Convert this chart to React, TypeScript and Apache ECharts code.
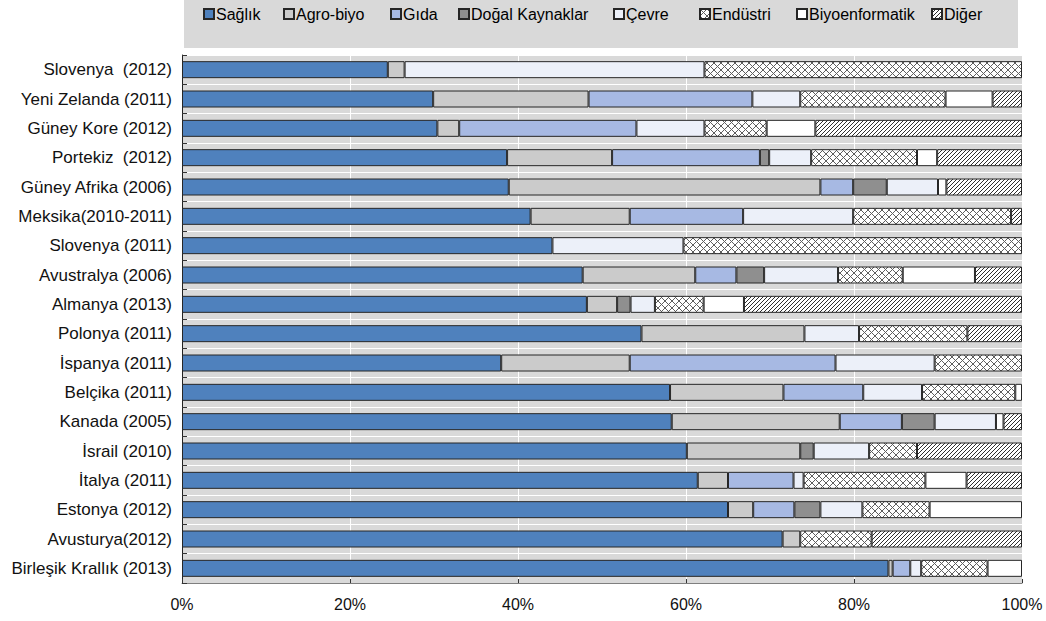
import React, { useEffect, useRef } from "react";
import * as echarts from "echarts";

const countries = [
  "Slovenya  (2012)",
  "Yeni Zelanda (2011)",
  "Güney Kore (2012)",
  "Portekiz  (2012)",
  "Güney Afrika (2006)",
  "Meksika(2010-2011)",
  "Slovenya (2011)",
  "Avustralya (2006)",
  "Almanya (2013)",
  "Polonya (2011)",
  "İspanya (2011)",
  "Belçika (2011)",
  "Kanada (2005)",
  "İsrail (2010)",
  "İtalya (2011)",
  "Estonya (2012)",
  "Avusturya(2012)",
  "Birleşik Krallık (2013)",
];

const seriesNames = [
  "Sağlık",
  "Agro-biyo",
  "Gıda",
  "Doğal Kaynaklar",
  "Çevre",
  "Endüstri",
  "Biyoenformatik",
  "Diğer",
];

const saglik = [24.5, 29.9, 30.4, 38.7, 38.9, 41.5, 44.1, 47.7, 48.2, 54.7, 38.0, 58.1, 58.3, 60.1, 61.4, 65.0, 71.5, 84.1];
const agroBiyo = [2.0, 18.5, 2.6, 12.5, 37.1, 11.8, 0, 13.4, 3.6, 19.4, 15.3, 13.5, 20.0, 13.5, 3.6, 3.0, 2.1, 0.5];
const gida = [0, 19.5, 21.1, 17.6, 3.9, 13.5, 0, 4.9, 0, 0, 24.5, 9.5, 7.4, 0, 7.8, 4.9, 0, 2.1];
const dogalKaynaklar = [0, 0, 0, 1.1, 4.0, 0, 0, 3.3, 1.6, 0, 0, 0, 3.9, 1.6, 0, 3.1, 0, 0];
const cevre = [35.7, 5.7, 8.1, 5.0, 6.1, 13.1, 15.6, 8.8, 2.9, 6.5, 11.8, 7.0, 7.3, 6.6, 1.2, 5.0, 0, 1.3];
const endustri = [37.8, 17.3, 7.4, 12.6, 0, 18.8, 40.3, 7.7, 5.8, 12.9, 10.4, 11.1, 0, 5.7, 14.5, 8.0, 8.5, 7.9];
const biyoenformatik = [0, 5.6, 5.8, 2.4, 1.0, 0, 0, 8.6, 4.8, 0, 0, 0.8, 0.9, 0, 4.9, 11.0, 0, 4.1];
const diger = [0, 3.5, 24.6, 10.1, 9.0, 1.3, 0, 5.6, 33.1, 6.5, 0, 0, 2.2, 12.5, 6.6, 0, 17.9, 0];

const xTicks = [0, 20, 40, 60, 80, 100];

const allValues = [saglik, agroBiyo, gida, dogalKaynaklar, cevre, endustri, biyoenformatik, diger];

const legendLeft = [203, 283, 390, 458, 613, 699, 796, 931];

function makeCrossHatch() {
  const s = 7;
  const c = document.createElement("canvas");
  c.width = s;
  c.height = s;
  const ctx = c.getContext("2d")!;
  ctx.fillStyle = "#ffffff";
  ctx.fillRect(0, 0, s, s);
  ctx.strokeStyle = "#5e5e5e";
  ctx.lineWidth = 1;
  ctx.beginPath();
  ctx.moveTo(0, 0);
  ctx.lineTo(s, s);
  ctx.moveTo(s, 0);
  ctx.lineTo(0, s);
  ctx.stroke();
  return c;
}

function makeDiagHatch() {
  const s = 4;
  const c = document.createElement("canvas");
  c.width = s;
  c.height = s;
  const ctx = c.getContext("2d")!;
  ctx.fillStyle = "#ffffff";
  ctx.fillRect(0, 0, s, s);
  ctx.strokeStyle = "#2e2e2e";
  ctx.lineWidth = 1;
  ctx.beginPath();
  ctx.moveTo(-1, s + 1);
  ctx.lineTo(s + 1, -1);
  ctx.moveTo(-1, 1);
  ctx.lineTo(1, -1);
  ctx.moveTo(s - 1, s + 1);
  ctx.lineTo(s + 1, s - 1);
  ctx.stroke();
  return c;
}

export default function App() {
  const ref = useRef<HTMLDivElement>(null);

  useEffect(() => {
    if (!ref.current) return;
    const chart = echarts.init(ref.current, null, { renderer: "svg" });

    const cross = makeCrossHatch();
    const hatch = makeDiagHatch();

    const colors: any[] = [
      "#4f81bd",
      "#cbcbcb",
      "#a7b9e3",
      "#8f8f8f",
      "#ecf0f9",
      { image: cross, repeat: "repeat", imageWidth: 7, imageHeight: 7 },
      "#ffffff",
      { image: hatch, repeat: "repeat", imageWidth: 4, imageHeight: 4 },
    ];

    const series = seriesNames.map((name, i) => ({
      name,
      type: "bar",
      stack: "total",
      barWidth: 17,
      itemStyle: {
        color: colors[i],
        borderColor: "#262626",
        borderWidth: 1,
      },
      data: allValues[i].map((v) => (v > 0 ? v : "-")),
    }));

    const legends = seriesNames.map((name, i) => ({
      data: [{ name, icon: "rect" }],
      left: legendLeft[i],
      top: 6,
      padding: 0,
      itemWidth: 10,
      itemHeight: 10,
      itemGap: 0,
      textStyle: {
        fontFamily: "Liberation Sans, Arial, sans-serif",
        fontSize: 16,
        color: "#000",
        padding: [0, 0, 0, -3],
      },
    }));

    chart.setOption({
      animation: false,
      backgroundColor: "#ffffff",
      textStyle: { fontFamily: "Liberation Sans, Arial, sans-serif" },
      graphic: [
        {
          type: "rect",
          silent: true,
          z: 0,
          shape: { x: 184, y: 0, width: 834, height: 48 },
          style: { fill: "#d9d9d9" },
        },
      ],
      legend: legends,
      grid: {
        left: 182,
        top: 55,
        width: 840,
        height: 528,
        show: true,
        backgroundColor: "#d9d9d9",
        borderWidth: 0,
        containLabel: false,
      },
      xAxis: {
        type: "value",
        min: xTicks[0],
        max: xTicks[xTicks.length - 1],
        interval: 20,
        axisLine: { show: true, lineStyle: { color: "#7f7f7f", width: 1 } },
        axisTick: { show: true, inside: true, length: 4, lineStyle: { color: "#333" } },
        axisLabel: {
          formatter: "{value}%",
          fontSize: 16,
          color: "#111",
          margin: 13,
          fontFamily: "Liberation Sans, Arial, sans-serif",
        },
        splitLine: { show: true, lineStyle: { color: "#ffffff", width: 1 } },
      },
      yAxis: {
        type: "category",
        inverse: true,
        data: countries,
        axisLine: { show: true, lineStyle: { color: "#222", width: 1 } },
        axisTick: { show: true, inside: true, length: 5, lineStyle: { color: "#333" } },
        axisLabel: {
          fontSize: 17,
          color: "#111",
          margin: 10,
          fontFamily: "Liberation Sans, Arial, sans-serif",
        },
        splitLine: { show: true, interval: 0, lineStyle: { color: "#ffffff", width: 1 } },
      },
      series,
    });

    return () => chart.dispose();
  }, []);

  return (
    <div
      ref={ref}
      style={{ position: "absolute", left: 0, top: 0, width: 1046, height: 621 }}
    />
  );
}
